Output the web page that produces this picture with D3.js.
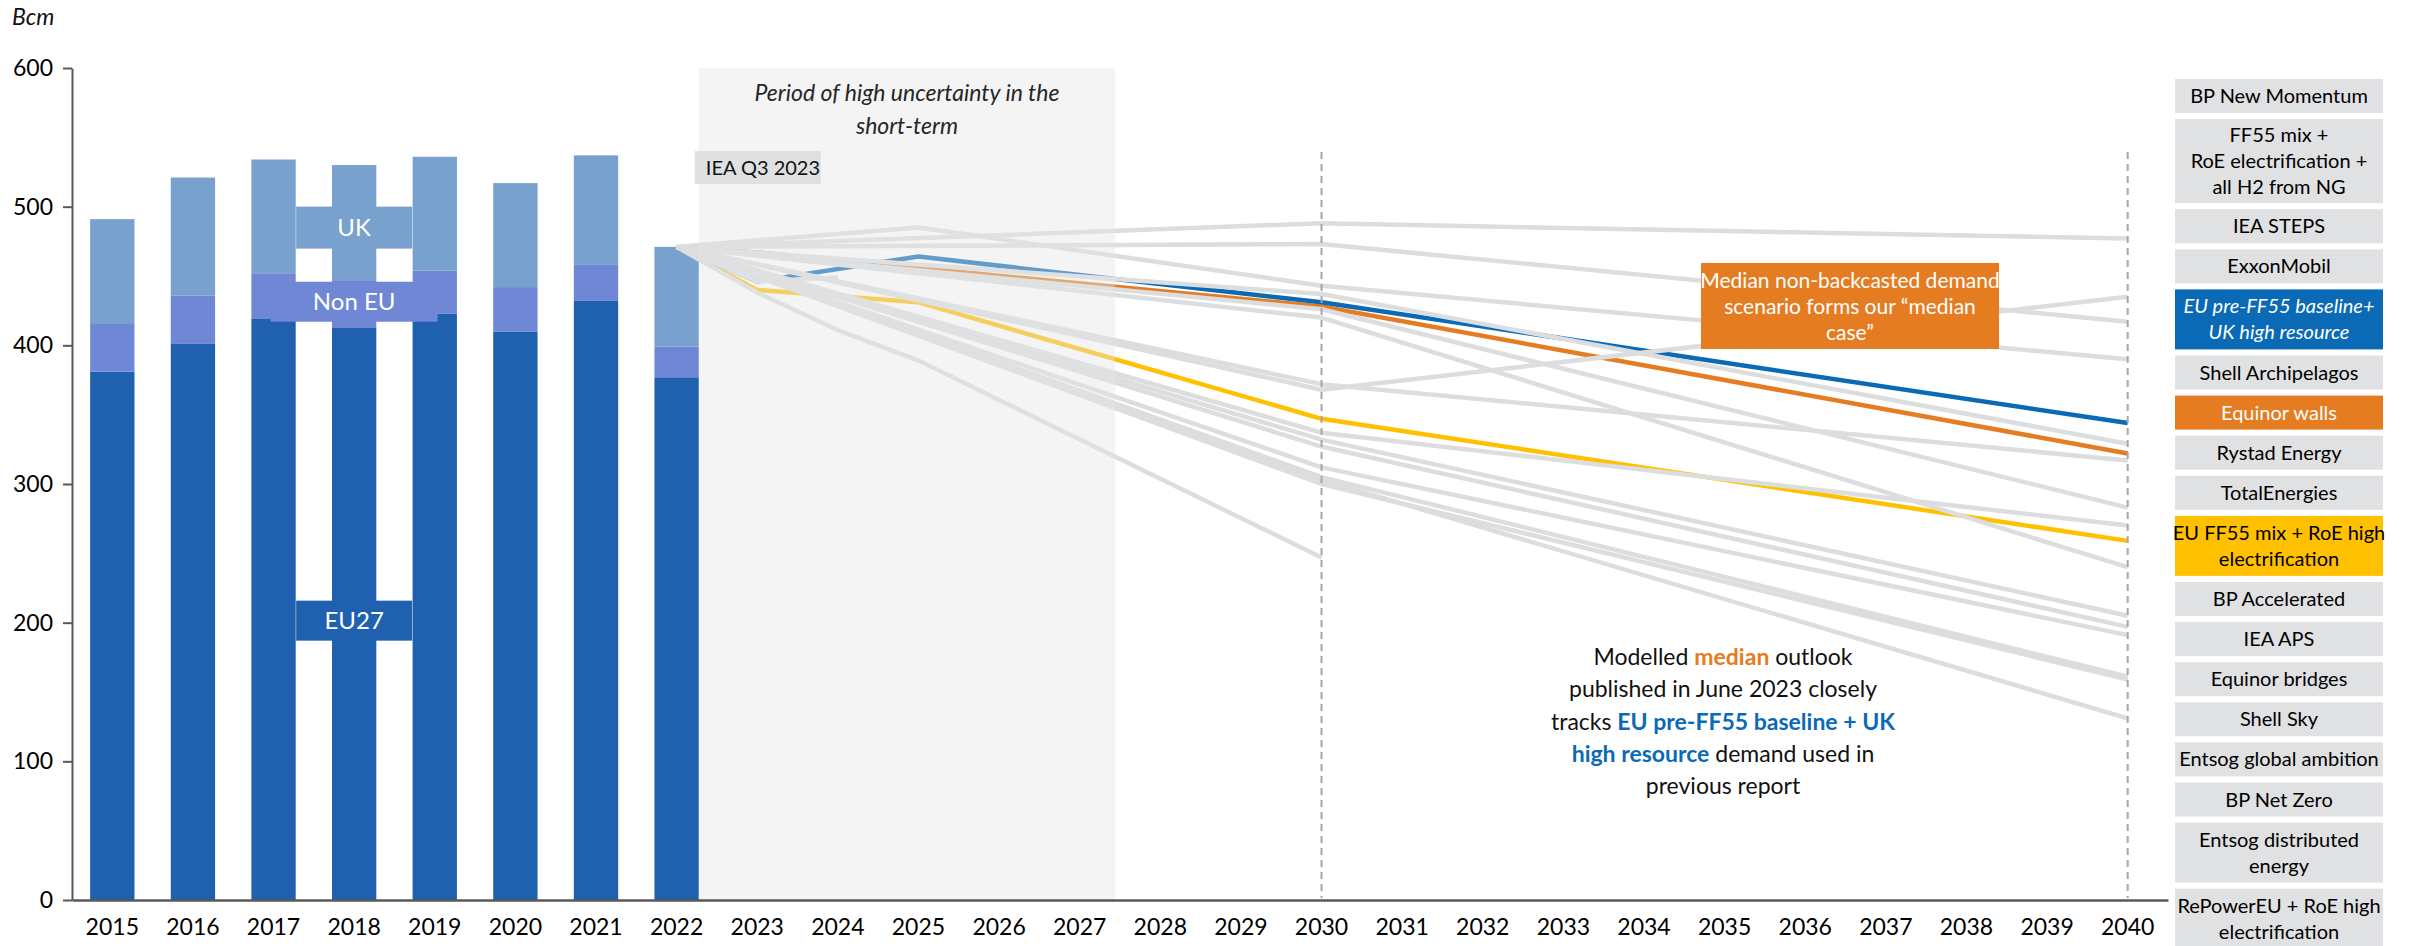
<!DOCTYPE html>
<html><head><meta charset="utf-8">
<script src="https://cdn.jsdelivr.net/npm/d3@7"></script>
<style>
body{margin:0;background:#fff;}
svg{display:block;font-family:Lato,'Open Sans',sans-serif;}
</style>
</head><body>
<svg id="c" width="2410" height="946"></svg>
<script>
// ---------- DATA ----------
const years = d3.range(2015, 2041).map(String);
const histYears = ["2015","2016","2017","2018","2019","2020","2021","2022"];
const eu27  = [381, 401, 419, 413, 423, 410, 432, 377];
const nonEU = [35, 35, 33, 34, 31, 32, 26, 22];
const ukVals = [75, 85, 82, 83, 82, 75, 79, 72];
const yTicks = [0, 100, 200, 300, 400, 500, 600];

// scenario paths: [year, Bcm]
const bpNewMomentum     = [[2022,471],[2030,488],[2040,477]];
const exxonMobil        = [[2022,471],[2025,485],[2030,443],[2040,390]];
const ieaSteps          = [[2022,471],[2030,473],[2040,417]];
const euPreFF55         = [[2022,471],[2023,446],[2025,464],[2030,431],[2040,344]];
const equinorWalls      = [[2022,471],[2023,467],[2030,428],[2040,322]];
const shellArchipelagos = [[2022,471],[2030,437],[2040,329]];
const totalEnergies     = [[2022,471],[2030,426],[2040,283]];
const ff55H2fromNG      = [[2022,471],[2030,368],[2040,435]];
const rystadEnergy      = [[2022,471],[2030,372],[2040,317]];
const ieaAps            = [[2022,471],[2030,420],[2040,240]];
const euFF55            = [[2022,471],[2023,440],[2025,431],[2030,347],[2040,259]];
const bpAccelerated     = [[2022,471],[2030,337],[2040,270]];
const equinorBridges    = [[2022,471],[2030,332],[2040,205]];
const shellSky          = [[2022,471],[2030,327],[2040,197]];
const entsogGlobal      = [[2022,471],[2030,312],[2040,191]];
const bpNetZero         = [[2022,471],[2030,305],[2040,161]];
const entsogDistributed = [[2022,471],[2030,300],[2040,159]];
const rePowerEU         = [[2022,471],[2030,303],[2040,131]];
const scenario2030Only  = [[2022,471],[2023,438],[2024,411],[2025,389],[2030,247]];
const ieaQ32023         = [[2022,471],[2023,446],[2024,449]];

const greyScenarios = [bpNewMomentum, exxonMobil, ieaSteps, shellArchipelagos, totalEnergies,
  ff55H2fromNG, rystadEnergy, ieaAps, bpAccelerated, equinorBridges, shellSky, entsogGlobal,
  bpNetZero, entsogDistributed, rePowerEU, scenario2030Only, ieaQ32023];
const highlighted = [
  {data: euFF55, color: "#ffc000"},
  {data: equinorWalls, color: "#e67c22"},
  {data: euPreFF55, color: "#0a6ab6"}
];

const legendItems = [
  {lines:["BP New Momentum"], fill:"#e0e1e3", color:"#000"},
  {lines:["FF55 mix +","RoE electrification +","all H2 from NG"], fill:"#e0e1e3", color:"#000"},
  {lines:["IEA STEPS"], fill:"#e0e1e3", color:"#000"},
  {lines:["ExxonMobil"], fill:"#e0e1e3", color:"#000"},
  {lines:["EU pre-FF55 baseline+","UK high resource"], fill:"#0a6ab6", color:"#fff", italic:true},
  {lines:["Shell Archipelagos"], fill:"#e0e1e3", color:"#000"},
  {lines:["Equinor walls"], fill:"#e67c22", color:"#fff"},
  {lines:["Rystad Energy"], fill:"#e0e1e3", color:"#000"},
  {lines:["TotalEnergies"], fill:"#e0e1e3", color:"#000"},
  {lines:["EU FF55 mix + RoE high","electrification"], fill:"#ffc000", color:"#000"},
  {lines:["BP Accelerated"], fill:"#e0e1e3", color:"#000"},
  {lines:["IEA APS"], fill:"#e0e1e3", color:"#000"},
  {lines:["Equinor bridges"], fill:"#e0e1e3", color:"#000"},
  {lines:["Shell Sky"], fill:"#e0e1e3", color:"#000"},
  {lines:["Entsog global ambition"], fill:"#e0e1e3", color:"#000"},
  {lines:["BP Net Zero"], fill:"#e0e1e3", color:"#000"},
  {lines:["Entsog distributed","energy"], fill:"#e0e1e3", color:"#000"},
  {lines:["RePowerEU + RoE high","electrification"], fill:"#e0e1e3", color:"#000"}
];

// ---------- SCALES ----------
const svg = d3.select("#c");
const x = d3.scaleBand().domain(years).range([72, 2168]).paddingInner(0.45).paddingOuter(0.225);
const bw = x.bandwidth();
const cx = yr => x(String(yr)) + bw / 2;
const y = d3.scaleLinear().domain([0, 600]).range([900, 68]);

const colEU = "#1f61ae", colNon = "#7087d6", colUK = "#78a1ce";

// ---------- BARS ----------
const stackData = histYears.map((yr, i) => ({year: yr, eu27: eu27[i], nonEU: nonEU[i], uk: ukVals[i]}));
const stack = d3.stack().keys(["eu27", "nonEU", "uk"])(stackData);
const colors = {eu27: colEU, nonEU: colNon, uk: colUK};
svg.append("g").selectAll("g").data(stack).join("g")
  .attr("fill", d => colors[d.key])
  .selectAll("rect").data(d => d).join("rect")
  .attr("x", d => x(d.data.year)).attr("width", bw)
  .attr("y", d => y(d[1])).attr("height", d => y(d[0]) - y(d[1]));

// data labels for 2018
const labYear = "2018";
const li = histYears.indexOf(labYear);
const labSegs = [
  {text:"UK", fill: colUK, v: eu27[li] + nonEU[li] + ukVals[li] / 2, w: 116, h: 42, dy: 5},
  {text:"Non EU", fill: colNon, v: eu27[li] + nonEU[li] / 2, w: 167, h: 40, dy: -2},
  {text:"EU27", fill: colEU, v: eu27[li] / 2, w: 116, h: 40, dy: 7}
];
const lg = svg.append("g");
labSegs.forEach(s => {
  const cy = y(s.v) + s.dy;
  lg.append("rect").attr("x", cx(labYear) - s.w / 2).attr("y", cy - s.h / 2)
    .attr("width", s.w).attr("height", s.h).attr("fill", s.fill);
  lg.append("text").attr("x", cx(labYear)).attr("y", cy).attr("dy", "0.35em")
    .attr("text-anchor", "middle").attr("fill", "#fff").attr("font-size", 24).text(s.text);
});

// ---------- LINES ----------
const line = d3.line().x(d => cx(d[0])).y(d => y(d[1]));
const lineG = svg.append("g").attr("fill", "none").attr("stroke-width", 4.5).attr("stroke-linejoin", "round");
highlighted.forEach(h => lineG.append("path").attr("d", line(h.data)).attr("stroke", h.color));
greyScenarios.forEach(s => lineG.append("path").attr("d", line(s)).attr("stroke", "#dcdddf"));

// ---------- UNCERTAINTY BAND (overlay) ----------
const step = x.step();
const bandX0 = x("2022") + bw;
const bandX1 = cx(2027) + step * 0.44;
svg.append("rect").attr("x", bandX0).attr("y", y(600)).attr("width", bandX1 - bandX0)
  .attr("height", y(0) - y(600)).attr("fill", "#e4e4e4").attr("opacity", 0.41);
svg.append("text").attr("x", (bandX0 + bandX1) / 2).attr("y", 93).attr("dy", "0.35em")
  .attr("text-anchor", "middle").attr("font-style", "italic").attr("font-size", 23).attr("fill", "#262626")
  .text("Period of high uncertainty in the");
svg.append("text").attr("x", (bandX0 + bandX1) / 2).attr("y", 126).attr("dy", "0.35em")
  .attr("text-anchor", "middle").attr("font-style", "italic").attr("font-size", 23).attr("fill", "#262626")
  .text("short-term");

// IEA Q3 2023 label
svg.append("rect").attr("x", bandX0 - 4).attr("y", 151).attr("width", 126).attr("height", 33).attr("fill", "#dfe0e2");
svg.append("text").attr("x", bandX0 + 7).attr("y", 167.5).attr("dy", "0.35em").attr("font-size", 20)
  .attr("fill", "#111").text("IEA Q3 2023");

// ---------- DASHED VERTICALS ----------
[2030, 2040].forEach(yr => {
  svg.append("line").attr("x1", cx(yr)).attr("x2", cx(yr)).attr("y1", 152).attr("y2", 898)
    .attr("stroke", "#a6a6a6").attr("stroke-width", 2).attr("stroke-dasharray", "7,5");
});

// ---------- AXES ----------
const yAxis = svg.append("g").attr("transform", "translate(72,0)")
  .call(d3.axisLeft(y).tickValues(yTicks).tickSize(9).tickSizeOuter(0).tickPadding(10));
yAxis.selectAll("path,line").attr("stroke", "#595959").attr("stroke-width", 2);
yAxis.selectAll("text").attr("font-size", 23).attr("fill", "#000").attr("font-family", "Lato");

const xAxis = svg.append("g").attr("transform", "translate(0,900)")
  .call(d3.axisBottom(x).tickSize(0).tickSizeOuter(0).tickPadding(19));
xAxis.select("path").attr("stroke", "#595959").attr("stroke-width", 2.5);
xAxis.selectAll("text").attr("font-size", 23).attr("fill", "#000").attr("font-family", "Lato");

svg.append("text").attr("x", 12).attr("y", 17).attr("dy", "0.35em").attr("font-style", "italic")
  .attr("font-size", 23).attr("fill", "#111").text("Bcm");

// ---------- ANNOTATIONS ----------
svg.append("rect").attr("x", 1701).attr("y", 263).attr("width", 298).attr("height", 86).attr("fill", "#e67c22");
["Median non-backcasted demand", "scenario forms our \u201cmedian", "case\u201d"].forEach((t, i) => {
  svg.append("text").attr("x", 1850).attr("y", 281 + i * 26).attr("dy", "0.35em").attr("text-anchor", "middle")
    .attr("font-size", 21).attr("fill", "#fff").text(t);
});

const noteLines = [
  [["Modelled ", null], ["median", "#e67c22"], [" outlook", null]],
  [["published in June 2023 closely", null]],
  [["tracks ", null], ["EU pre-FF55 baseline + UK", "#0a6ab6"]],
  [["high resource", "#0a6ab6"], [" demand used in", null]],
  [["previous report", null]]
];
noteLines.forEach((parts, i) => {
  const t = svg.append("text").attr("x", 1723).attr("y", 657 + i * 32.3).attr("dy", "0.35em")
    .attr("text-anchor", "middle").attr("font-size", 23).attr("fill", "#111");
  parts.forEach(p => {
    const ts = t.append("tspan").text(p[0]);
    if (p[1]) ts.attr("fill", p[1]).attr("font-weight", "bold");
  });
});

// ---------- LEGEND ----------
const legX = 2175, legW = 208, gap = 6.1;
const hFor = n => n === 1 ? 34 : (n === 2 ? 60 : 84);
let ly = 79;
const leg = svg.append("g");
legendItems.forEach(it => {
  const h = hFor(it.lines.length);
  leg.append("rect").attr("x", legX).attr("y", ly).attr("width", legW).attr("height", h).attr("fill", it.fill);
  const mid = ly + h / 2;
  it.lines.forEach((t, j) => {
    const off = (j - (it.lines.length - 1) / 2) * 26;
    leg.append("text").attr("x", legX + legW / 2).attr("y", mid + off).attr("dy", "0.35em")
      .attr("text-anchor", "middle").attr("font-size", 20).attr("fill", it.color)
      .attr("font-style", it.italic ? "italic" : null).text(t);
  });
  ly += h + gap;
});
</script>
</body></html>
